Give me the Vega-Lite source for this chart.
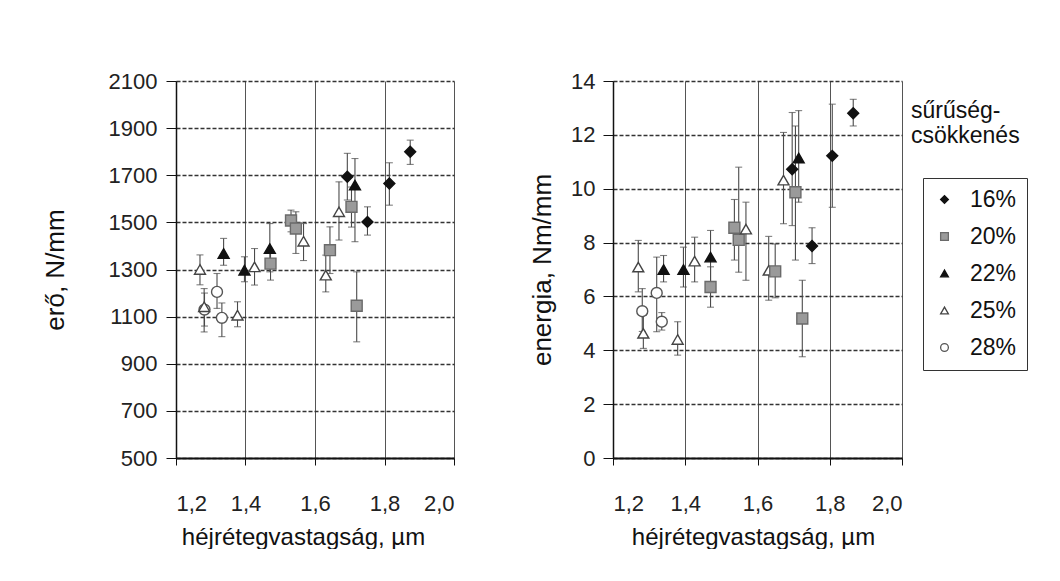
{
  "$schema": "https://vega.github.io/schema/vega-lite/v6.json",
  "background": "white",
  "padding": {"left": 42, "top": 70, "right": 0, "bottom": 0},
  "spacing": 74,
  "config": {
    "font": "Liberation Sans",
    "view": {"stroke": null},
    "axis": {
      "labelFont": "Liberation Sans", "titleFont": "Liberation Sans",
      "labelColor": "#222", "titleColor": "#111",
      "titleFontWeight": "normal", "labelFontSize": 22, "titleFontSize": 24,
      "domainColor": "#111", "tickColor": "#111"
    }
  },
  "datasets": {
    "force": [
      {"x": 1.269, "v": 1300, "lo": 1235, "hi": 1362, "s": "25%"},
      {"x": 1.282, "v": 1130, "lo": 1060, "hi": 1200, "s": "28%"},
      {"x": 1.281, "v": 1142, "lo": 1035, "hi": 1219, "s": "25%"},
      {"x": 1.318, "v": 1205, "lo": 1135, "hi": 1283, "s": "28%"},
      {"x": 1.332, "v": 1095, "lo": 1015, "hi": 1158, "s": "28%"},
      {"x": 1.337, "v": 1368, "lo": 1318, "hi": 1432, "s": "22%"},
      {"x": 1.377, "v": 1106, "lo": 1057, "hi": 1163, "s": "25%"},
      {"x": 1.397, "v": 1297, "lo": 1248, "hi": 1354, "s": "22%"},
      {"x": 1.426, "v": 1311, "lo": 1234, "hi": 1389, "s": "25%"},
      {"x": 1.470, "v": 1389, "lo": 1290, "hi": 1495, "s": "22%"},
      {"x": 1.472, "v": 1325, "lo": 1255, "hi": 1382, "s": "20%"},
      {"x": 1.531, "v": 1508, "lo": 1460, "hi": 1552, "s": "20%"},
      {"x": 1.545, "v": 1474, "lo": 1368, "hi": 1545, "s": "20%"},
      {"x": 1.567, "v": 1420, "lo": 1338, "hi": 1495, "s": "25%"},
      {"x": 1.631, "v": 1276, "lo": 1205, "hi": 1361, "s": "25%"},
      {"x": 1.643, "v": 1382, "lo": 1283, "hi": 1481, "s": "20%"},
      {"x": 1.669, "v": 1545, "lo": 1425, "hi": 1672, "s": "25%"},
      {"x": 1.693, "v": 1694, "lo": 1595, "hi": 1793, "s": "16%"},
      {"x": 1.705, "v": 1566, "lo": 1480, "hi": 1650, "s": "20%"},
      {"x": 1.715, "v": 1658, "lo": 1418, "hi": 1771, "s": "22%"},
      {"x": 1.720, "v": 1146, "lo": 993, "hi": 1290, "s": "20%"},
      {"x": 1.751, "v": 1502, "lo": 1446, "hi": 1566, "s": "16%"},
      {"x": 1.814, "v": 1665, "lo": 1573, "hi": 1753, "s": "16%"},
      {"x": 1.874, "v": 1800, "lo": 1746, "hi": 1849, "s": "16%"}
    ],
    "energy": [
      {"x": 1.270, "v": 7.09, "lo": 6.17, "hi": 8.08, "s": "25%"},
      {"x": 1.281, "v": 5.45, "lo": 4.70, "hi": 6.29, "s": "28%"},
      {"x": 1.284, "v": 4.63, "lo": 4.07, "hi": 5.30, "s": "25%"},
      {"x": 1.321, "v": 6.13, "lo": 4.69, "hi": 7.46, "s": "28%"},
      {"x": 1.335, "v": 5.06, "lo": 4.75, "hi": 5.40, "s": "28%"},
      {"x": 1.340, "v": 7.00, "lo": 6.54, "hi": 7.52, "s": "22%"},
      {"x": 1.379, "v": 4.40, "lo": 3.82, "hi": 5.06, "s": "25%"},
      {"x": 1.395, "v": 7.00, "lo": 6.35, "hi": 7.83, "s": "22%"},
      {"x": 1.426, "v": 7.31, "lo": 6.54, "hi": 8.20, "s": "25%"},
      {"x": 1.470, "v": 7.46, "lo": 6.50, "hi": 8.45, "s": "22%"},
      {"x": 1.470, "v": 6.35, "lo": 5.60, "hi": 7.10, "s": "20%"},
      {"x": 1.536, "v": 8.55, "lo": 7.35, "hi": 9.60, "s": "20%"},
      {"x": 1.548, "v": 8.10, "lo": 6.90, "hi": 10.80, "s": "20%"},
      {"x": 1.568, "v": 8.50, "lo": 6.60, "hi": 9.50, "s": "25%"},
      {"x": 1.631, "v": 6.97, "lo": 5.86, "hi": 8.23, "s": "25%"},
      {"x": 1.649, "v": 6.93, "lo": 5.95, "hi": 7.95, "s": "20%"},
      {"x": 1.672, "v": 10.32, "lo": 8.70, "hi": 12.09, "s": "25%"},
      {"x": 1.696, "v": 10.72, "lo": 8.63, "hi": 12.83, "s": "16%"},
      {"x": 1.705, "v": 9.87, "lo": 7.35, "hi": 12.33, "s": "20%"},
      {"x": 1.714, "v": 11.14, "lo": 9.50, "hi": 12.90, "s": "22%"},
      {"x": 1.724, "v": 5.18, "lo": 3.76, "hi": 6.60, "s": "20%"},
      {"x": 1.751, "v": 7.87, "lo": 7.22, "hi": 8.55, "s": "16%"},
      {"x": 1.807, "v": 11.22, "lo": 9.31, "hi": 13.14, "s": "16%"},
      {"x": 1.865, "v": 12.80, "lo": 12.33, "hi": 13.32, "s": "16%"}
    ]
  },
  "resolve": {
    "scale": {"shape": "independent", "fill": "independent", "stroke": "independent"},
    "legend": {"shape": "independent", "fill": "independent", "stroke": "independent"}
  },
  "hconcat": [
    {
      "width": 278,
      "height": 377,
      "data": {"name": "force"},
      "encoding": {
        "x": {
          "field": "x", "type": "quantitative",
          "scale": {"domain": [1.2, 2.0], "nice": false, "zero": false},
          "axis": {
            "values": [1.2, 1.4, 1.6, 1.8, 2.0],
            "labelExpr": "replace(format(datum.value, '.1f'), '.', ',')",
            "title": "héjrétegvastagság, µm", "titleX": 127,
            "grid": true, "gridColor": "#555", "gridWidth": 1,
            "tickSize": 7, "labelPadding": 28, "labelDx": 10, "titlePadding": 11,
            "domainWidth": 2
          }
        }
      },
      "layer": [
        {
          "mark": {"type": "rule", "color": "#4a4a4a", "strokeWidth": 1.1},
          "encoding": {
            "y": {"field": "lo", "type": "quantitative",
              "scale": {"domain": [500, 2100], "nice": false, "zero": false},
              "axis": {
                "values": [500, 700, 900, 1100, 1300, 1500, 1700, 1900, 2100],
                "format": "d",
                "title": "erő, N/mm", "titleFontSize": 26,
                "grid": true, "gridColor": "#333", "gridDash": [4, 2], "gridWidth": 1.4,
                "tickSize": 10, "labelPadding": 9, "titlePadding": 40, "domainWidth": 1.5
              }},
            "y2": {"field": "hi"}
          }
        },
        {
          "mark": {"type": "tick", "orient": "horizontal", "size": 7, "thickness": 1.1, "color": "#4a4a4a"},
          "encoding": {"y": {"field": "hi", "type": "quantitative"}}
        },
        {
          "mark": {"type": "tick", "orient": "horizontal", "size": 7, "thickness": 1.1, "color": "#4a4a4a"},
          "encoding": {"y": {"field": "lo", "type": "quantitative"}}
        },
        {
          "mark": {"type": "point", "size": 120, "strokeWidth": 1.4, "opacity": 1},
          "encoding": {
            "y": {"field": "v", "type": "quantitative"},
            "shape": {"field": "s", "type": "nominal", "legend": null,
              "scale": {"domain": ["16%", "20%", "22%", "25%", "28%"], "range": ["diamond", "square", "triangle-up", "triangle-up", "circle"]}},
            "fill": {"field": "s", "type": "nominal", "legend": null,
              "scale": {"domain": ["16%", "20%", "22%", "25%", "28%"], "range": ["#111", "#9a9a9a", "#111", "white", "white"]}},
            "stroke": {"field": "s", "type": "nominal", "legend": null,
              "scale": {"domain": ["16%", "20%", "22%", "25%", "28%"], "range": ["#111", "#6a6a6a", "#111", "#444", "#555"]}}
          }
        }
      ]
    },
    {
      "width": 289,
      "height": 377,
      "data": {"name": "energy"},
      "title": {
        "text": ["sűrűség-", "csökkenés"], "anchor": "end", "frame": "group", "align": "left",
        "orient": "top", "offset": 0, "dx": 9, "dy": 78, "fontSize": 23, "fontWeight": "normal",
        "lineHeight": 25, "font": "Liberation Sans", "color": "#111"
      },
      "encoding": {
        "x": {
          "field": "x", "type": "quantitative",
          "scale": {"domain": [1.2, 2.0], "nice": false, "zero": false},
          "axis": {
            "values": [1.2, 1.4, 1.6, 1.8, 2.0],
            "labelExpr": "replace(format(datum.value, '.1f'), '.', ',')",
            "title": "héjrétegvastagság, µm", "titleX": 140,
            "grid": true, "gridColor": "#555", "gridWidth": 1,
            "tickSize": 7, "labelPadding": 28, "labelDx": 9, "titlePadding": 11,
            "domainWidth": 2
          }
        }
      },
      "layer": [
        {
          "mark": {"type": "rule", "color": "#4a4a4a", "strokeWidth": 1.1},
          "encoding": {
            "y": {"field": "lo", "type": "quantitative",
              "scale": {"domain": [0, 14], "nice": false},
              "axis": {
                "values": [0, 2, 4, 6, 8, 10, 12, 14],
                "format": "d",
                "title": "energia, Nm/mm", "titleFontSize": 26,
                "grid": true, "gridColor": "#333", "gridDash": [4, 2], "gridWidth": 1.4,
                "tickSize": 10, "labelPadding": 8, "titlePadding": 15, "domainWidth": 1.5
              }},
            "y2": {"field": "hi"}
          }
        },
        {
          "mark": {"type": "tick", "orient": "horizontal", "size": 7, "thickness": 1.1, "color": "#4a4a4a"},
          "encoding": {"y": {"field": "hi", "type": "quantitative"}}
        },
        {
          "mark": {"type": "tick", "orient": "horizontal", "size": 7, "thickness": 1.1, "color": "#4a4a4a"},
          "encoding": {"y": {"field": "lo", "type": "quantitative"}}
        },
        {
          "mark": {"type": "point", "size": 120, "strokeWidth": 1.4, "opacity": 1},
          "encoding": {
            "y": {"field": "v", "type": "quantitative"},
            "shape": {"field": "s", "type": "nominal",
              "scale": {"domain": ["16%", "20%", "22%", "25%", "28%"], "range": ["diamond", "square", "triangle-up", "triangle-up", "circle"]},
              "legend": {
                "title": null, "orient": "none", "legendX": 310, "legendY": 97,
                "strokeColor": "#333", "padding": 10,
                "labelFontSize": 23, "labelFont": "Liberation Sans", "labelColor": "#111",
                "symbolSize": 60, "labelOffset": 14, "rowPadding": 13, "symbolStrokeWidth": 1.3
              }},
            "fill": {"field": "s", "type": "nominal",
              "scale": {"domain": ["16%", "20%", "22%", "25%", "28%"], "range": ["#111", "#9a9a9a", "#111", "white", "white"]}},
            "stroke": {"field": "s", "type": "nominal",
              "scale": {"domain": ["16%", "20%", "22%", "25%", "28%"], "range": ["#111", "#6a6a6a", "#111", "#444", "#555"]}}
          }
        }
      ]
    }
  ]
}
